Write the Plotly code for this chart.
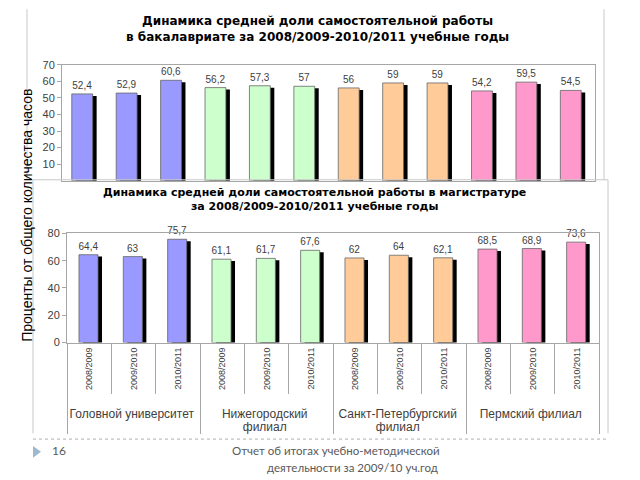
import plotly.graph_objects as go

# ---------------- data ----------------
groups = ["Головной университет"] * 3 + ["Нижегородский<br>филиал"] * 3 + \
         ["Санкт-Петербургский<br>филиал"] * 3 + ["Пермский филиал"] * 3
years = ["2008/2009", "2009/2010", "2010/2011"] * 4
bachelor = [52.4, 52.9, 60.6, 56.2, 57.3, 57, 56, 59, 59, 54.2, 59.5, 54.5]
master = [64.4, 63, 75.7, 61.1, 61.7, 67.6, 62, 64, 62.1, 68.5, 68.9, 73.6]
group_colors = ["#9999FF"] * 3 + ["#CCFFCC"] * 3 + ["#FFCC99"] * 3 + ["#FF99CC"] * 3

title_top = "Динамика средней доли самостоятельной работы<br>в бакалавриате за 2008/2009-2010/2011 учебные годы"
title_bot = "Динамика средней доли самостоятельной работы в магистратуре<br>за 2008/2009-2010/2011 учебные годы"
y_title = "Проценты от общего количества часов"
footer_num = "16"
footer_line1 = "Отчет об итогах учебно-методической"
footer_line2 = "деятельности за 2009/10 уч.год"

W, H = 640, 480
OFF = 8  # page body margin
def px(x): return (x - OFF) / W
def py(y): return 1 - (y - OFF) / H

def lab(v):
    return f"{v:g}".replace(".", ",")

def span(text, size):
    return "<br>".join(f'<span style="font-size:{size}px">{t}</span>' for t in text.split("<br>"))

grp_lbl = [span(g, 12) for g in groups]
year_lbl = [span("\u00a0\u00a0\u00a0" + y, 9) for y in years]
x_cat = [grp_lbl, year_lbl]

fig = go.Figure()

# top chart (bachelor)
fig.add_trace(go.Bar(x=x_cat, y=bachelor, base=-1.2, width=0.47, offset=-0.19,
                     marker=dict(color="#000000", line=dict(width=0)),
                     xaxis="x", yaxis="y", hoverinfo="skip", showlegend=False))
fig.add_trace(go.Bar(x=x_cat, y=bachelor, width=0.47, offset=-0.28,
                     marker=dict(color=group_colors, line=dict(color="#666666", width=0.8)),
                     text=[lab(v) for v in bachelor], textposition="outside",
                     constraintext="none", cliponaxis=False,
                     textfont=dict(family="Liberation Sans", size=10, color="#404040"),
                     xaxis="x", yaxis="y", showlegend=False))

# bottom chart (master)
fig.add_trace(go.Bar(x=x_cat, y=master, base=-1.4, width=0.43, offset=-0.14,
                     marker=dict(color="#000000", line=dict(width=0)),
                     xaxis="x2", yaxis="y2", hoverinfo="skip", showlegend=False))
fig.add_trace(go.Bar(x=x_cat, y=master, width=0.43, offset=-0.23,
                     marker=dict(color=group_colors, line=dict(color="#666666", width=0.8)),
                     text=[lab(v) for v in master], textposition="outside",
                     constraintext="none", cliponaxis=False,
                     textfont=dict(family="Liberation Sans", size=10, color="#404040"),
                     xaxis="x2", yaxis="y2", showlegend=False))

axis_gray = "#A6A6A6"
tickfont = dict(family="Liberation Sans", size=11, color="#404040")

fig.update_layout(
    width=W, height=H,
    margin=dict(l=0, r=0, t=0, b=0),
    paper_bgcolor="white", plot_bgcolor="white",
    barmode="overlay",
    xaxis=dict(domain=[px(62), px(595)], anchor="y", type="multicategory",
               showticklabels=False, ticks="", showdividers=False,
               showline=True, mirror=True, linecolor=axis_gray, showgrid=False),
    yaxis=dict(domain=[py(179), py(60)], anchor="x", range=[0, 70.02],
               tickvals=[10, 20, 30, 40, 50, 60, 70], ticks="outside", ticklen=4,
               tickcolor=axis_gray, tickfont=tickfont, showgrid=False, zeroline=False,
               showline=True, mirror=True, linecolor=axis_gray),
    xaxis2=dict(domain=[px(67), px(599)], anchor="y2", type="multicategory",
                tickangle=-90, ticks="outside", ticklen=50, tickcolor=axis_gray,
                ticklabelstandoff=0,
                tickfont=dict(family="Liberation Sans", size=10, color="#404040"),
                showdividers=True, dividercolor=axis_gray, dividerwidth=1,
                showline=True, mirror=True, linecolor=axis_gray, showgrid=False),
    yaxis2=dict(domain=[py(345), py(233)], anchor="x2", range=[0, 80.02],
                tickvals=[0, 20, 40, 60, 80], ticks="outside", ticklen=4,
                tickcolor=axis_gray, tickfont=tickfont, showgrid=False, zeroline=False,
                showline=True, mirror=True, linecolor=axis_gray),
)

frame = "#C8C8C8"
def L(x0, y0, x1, y1, color=frame, dash="solid"):
    return dict(type="line", xref="paper", yref="paper", x0=px(x0), x1=px(x1),
                y0=py(y0), y1=py(y1), line=dict(color=color, width=1, dash=dash))

shapes = [
    L(27, 3, 27, 178), L(604, 3, 604, 178),
    L(33, 178, 608, 178), L(33, 178, 33, 438), L(608, 178, 608, 438),
    L(33, 444, 608, 444, color="#B0B0B0", dash="dot"),
    dict(type="path", xref="paper", yref="paper",
         path=f"M {px(33)},{py(451)} L {px(41)},{py(457)} L {px(33)},{py(463)} Z",
         fillcolor="#9DB8CF", line=dict(width=0)),
]
fig.update_layout(shapes=shapes)

def A(text, x, y, size, family, color="#000000", xanchor="center", **kw):
    return dict(text=text, xref="paper", yref="paper", x=px(x), y=py(y),
                xanchor=xanchor, yanchor="middle", showarrow=False,
                font=dict(family=family, size=size, color=color), **kw)

annotations = [
    A(f"<b>{title_top}</b>", 317, 23, 12, "DejaVu Sans"),
    A(f"<b>{title_bot}</b>", 314, 198.5, 11, "DejaVu Sans"),
    A(y_title, 27, 215, 14, "Liberation Sans", textangle=-90),
    A(footer_num, 50, 456, 12, "Lato", color="#595959", xanchor="left"),
    A(footer_line1, 442, 456, 11.5, "Lato", color="#595959", xanchor="right"),
    A(footer_line2, 440, 473, 11.5, "Lato", color="#595959", xanchor="right"),
]
fig.update_layout(annotations=annotations)

fig.write_html("out.html")
